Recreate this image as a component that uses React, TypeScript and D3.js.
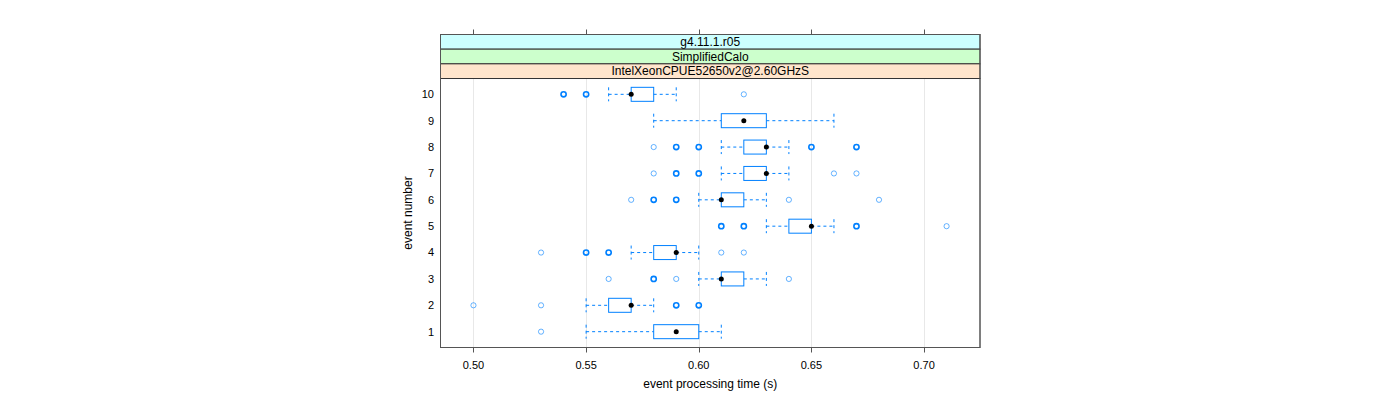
import React from "react";
import * as d3 from "d3";

const events = [1, 2, 3, 4, 5, 6, 7, 8, 9, 10];
const whiskerLow = [0.55, 0.55, 0.60, 0.57, 0.63, 0.60, 0.61, 0.61, 0.58, 0.56];
const q1 = [0.58, 0.56, 0.61, 0.58, 0.64, 0.61, 0.62, 0.62, 0.61, 0.57];
const medians = [0.59, 0.57, 0.61, 0.59, 0.65, 0.61, 0.63, 0.63, 0.62, 0.57];
const q3 = [0.60, 0.57, 0.62, 0.59, 0.65, 0.62, 0.63, 0.63, 0.63, 0.58];
const whiskerHigh = [0.61, 0.58, 0.63, 0.60, 0.66, 0.63, 0.64, 0.64, 0.66, 0.59];
const outliers: number[][] = [
  [0.53],
  [0.50, 0.53, 0.59, 0.59, 0.60, 0.60],
  [0.56, 0.58, 0.58, 0.59, 0.64],
  [0.53, 0.55, 0.55, 0.56, 0.56, 0.61, 0.62],
  [0.61, 0.61, 0.62, 0.62, 0.67, 0.67, 0.71],
  [0.57, 0.58, 0.58, 0.59, 0.59, 0.64, 0.68],
  [0.58, 0.59, 0.59, 0.60, 0.60, 0.66, 0.67],
  [0.58, 0.59, 0.59, 0.60, 0.60, 0.65, 0.65, 0.67, 0.67],
  [],
  [0.54, 0.54, 0.55, 0.55, 0.62],
];
const xTicks = [0.5, 0.55, 0.6, 0.65, 0.7];
const stripLabels = ["g4.11.1.r05", "SimplifiedCalo", "IntelXeonCPUE52650v2@2.60GHzS"];
const stripColors = ["#ccffff", "#ccffcc", "#ffe5cc"];

const FONT = "'Liberation Sans', Arial, Helvetica, sans-serif";
const BLUE = "#0080ff";

export default function App() {
  const left = 440.5, right = 980, top = 78.5, bottom = 347.5;
  const stripTop = 34.5, stripH = 14.67;
  const x = d3.scaleLinear().domain([0.48537, 0.72483]).range([left, right]);
  const y = d3.scaleLinear().domain([0.4, 10.6]).range([bottom, top]);
  const half = 7;

  return (
    <svg width={1400} height={400} style={{ position: "absolute", left: 0, top: 0, display: "block" }}
      fontFamily={FONT}>
      <rect x={0} y={0} width={1400} height={400} fill="white" />
      {/* grid */}
      {xTicks.map((t) => (
        <line key={"g" + t} x1={Math.round(x(t)) + 0.5} x2={Math.round(x(t)) + 0.5} y1={top} y2={bottom} stroke="#e8e8e8" strokeWidth={1} />
      ))}
      {/* boxes */}
      {events.map((e, i) => {
        const cy = y(e);
        const counts = d3.rollup(outliers[i], (v) => v.length, (d) => d);
        return (
          <g key={"e" + e}>
            <line x1={x(whiskerLow[i])} x2={x(q1[i])} y1={cy} y2={cy} stroke={BLUE} strokeDasharray="3,3" />
            <line x1={x(q3[i])} x2={x(whiskerHigh[i])} y1={cy} y2={cy} stroke={BLUE} strokeDasharray="3,3" />
            <line x1={x(whiskerLow[i])} x2={x(whiskerLow[i])} y1={cy - half} y2={cy + half} stroke={BLUE} strokeDasharray="3,3" />
            <line x1={x(whiskerHigh[i])} x2={x(whiskerHigh[i])} y1={cy - half} y2={cy + half} stroke={BLUE} strokeDasharray="3,3" />
            <rect x={x(q1[i])} y={cy - half} width={Math.max(0, x(q3[i]) - x(q1[i]))} height={2 * half} fill="none" stroke={BLUE} strokeWidth={1} />
            {Array.from(counts.entries()).map(([v, n]) => (
              <circle key={"o" + v} cx={x(v)} cy={cy} r={2.6} fill="none" stroke={BLUE}
                strokeWidth={n > 1 ? 1.6 : 1} strokeOpacity={n > 1 ? 1 : 0.6} />
            ))}
            <circle cx={x(medians[i])} cy={cy} r={2.5} fill="black" />
          </g>
        );
      })}
      {/* panel border */}
      <rect x={left} y={top} width={right - left} height={bottom - top} fill="none" stroke="#555" strokeWidth={1} />
      {/* strips */}
      {stripLabels.map((s, k) => {
        const sy = stripTop + k * stripH;
        return (
          <g key={"s" + k}>
            <rect x={left} y={sy} width={right - left} height={stripH} fill={stripColors[k]} stroke="#333" strokeWidth={1} />
            <text x={(left + right) / 2} y={sy + stripH / 2} dy="0.35em" textAnchor="middle" fontSize={12} fill="black">{s}</text>
          </g>
        );
      })}
      <rect x={left} y={stripTop} width={right - left} height={bottom - stripTop} fill="none" stroke="#555" strokeWidth={1} />
      {/* x ticks bottom/top */}
      {xTicks.map((t) => (
        <g key={"t" + t}>
          <line x1={Math.round(x(t)) + 0.5} x2={Math.round(x(t)) + 0.5} y1={bottom} y2={bottom + 5} stroke="#555" />
          <line x1={Math.round(x(t)) + 0.5} x2={Math.round(x(t)) + 0.5} y1={stripTop} y2={stripTop - 5} stroke="#555" />
          <text x={x(t)} y={365} dy="0.35em" textAnchor="middle" fontSize={11} fill="black">{t.toFixed(2)}</text>
        </g>
      ))}
      {/* y labels */}
      {events.map((e) => (
        <text key={"y" + e} x={434} y={y(e)} dy="0.35em" textAnchor="end" fontSize={11} fill="black">{e}</text>
      ))}
      <text x={(left + right) / 2} y={384} dy="0.35em" textAnchor="middle" fontSize={12} fill="black">event processing time (s)</text>
      <text transform={`translate(408,${(top + bottom) / 2}) rotate(-90)`} dy="0.35em" textAnchor="middle" fontSize={12} fill="black">event number</text>
    </svg>
  );
}
